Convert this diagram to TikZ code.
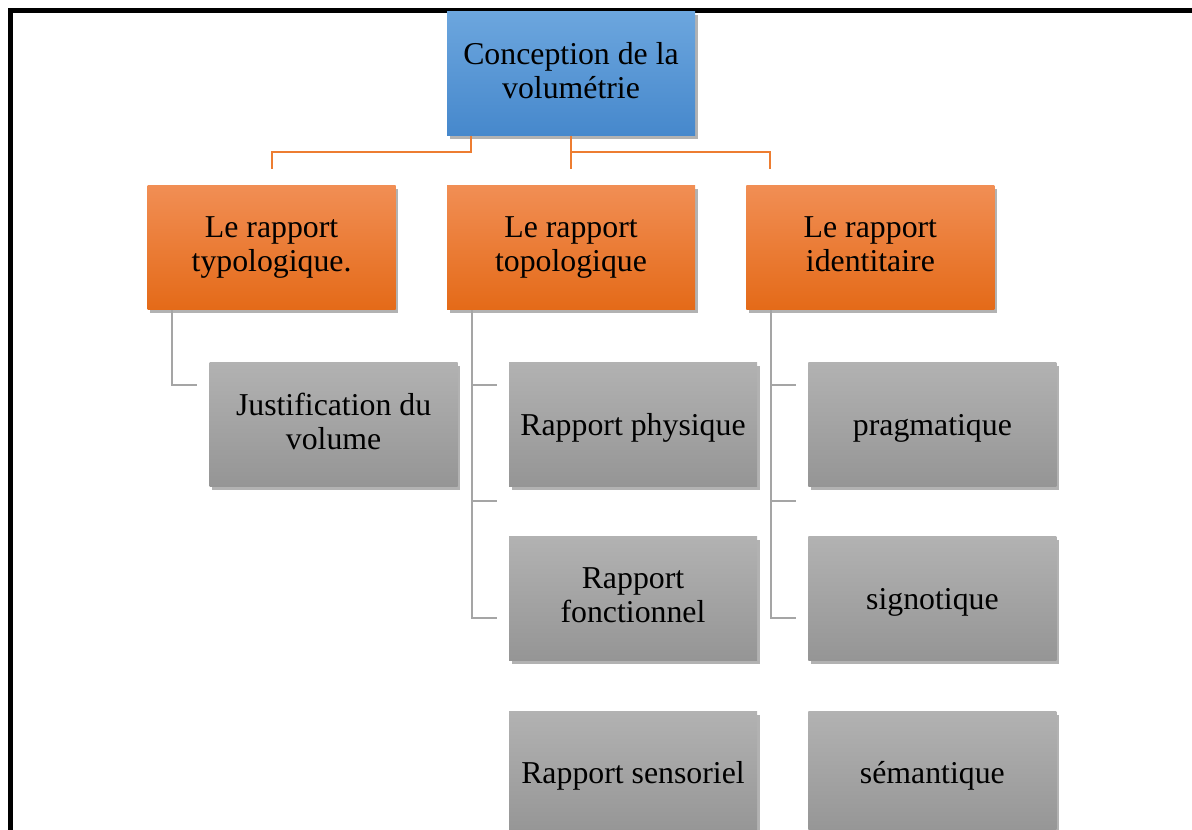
\documentclass[tikz,border=0pt]{standalone}
\usepackage{fontspec}
\setmainfont{Liberation Serif}
\usepackage{xcolor}
\usetikzlibrary{positioning,shadows,calc}

\definecolor{blueTop}{RGB}{108,166,222}
\definecolor{blueBot}{RGB}{70,136,204}
\definecolor{orgTop}{RGB}{241,142,84}
\definecolor{orgBot}{RGB}{228,106,24}
\definecolor{grayTop}{RGB}{178,178,178}
\definecolor{grayBot}{RGB}{149,149,149}
\definecolor{orgLine}{RGB}{237,125,49}
\definecolor{grayLine}{RGB}{165,165,165}

\newcommand\boxstrut{\rule[-7pt]{0pt}{35.6pt}}

\begin{document}
\begin{tikzpicture}[x=1pt,y=-1pt,
  every node/.style={font=\fontsize{31.8}{34}\selectfont, align=center, inner sep=2pt,
    execute at begin node=\boxstrut, execute at end node=\boxstrut},
  box/.style={minimum width=248pt, minimum height=124pt,
    drop shadow={shadow xshift=2.5pt, shadow yshift=-3.5pt, opacity=0.3, fill=black}},
  rootbox/.style={box, top color=blueTop, bottom color=blueBot},
  levelbox/.style={box, top color=orgTop, bottom color=orgBot},
  leafbox/.style={box, top color=grayTop, bottom color=grayBot},
  orgline/.style={draw=orgLine, line width=2pt},
  grayline/.style={draw=grayLine, line width=2pt},
]
\useasboundingbox (0,0) rectangle (1192,830);
% frame
\draw[line width=5pt] (10,860) -- (10,10) -- (1220,10);

% top and first level
\node[rootbox] (root) at (571,73.5) {Conception de la\\volumétrie};
\node[levelbox, below=50pt of root] (topo) {Le rapport\\topologique};
\node[levelbox, left=51pt of topo] (typo) {Le rapport\\typologique.};
\node[levelbox, right=51pt of topo] (ident) {Le rapport\\identitaire};

% second level
\node[leafbox, anchor=north west] (just) at ([xshift=62pt,yshift=-52pt]typo.south west) {Justification du\\volume};
\node[leafbox, anchor=north west] (phys) at ([xshift=62pt,yshift=-52pt]topo.south west) {Rapport physique};
\node[leafbox, below=50pt of phys] (fonc) {Rapport\\fonctionnel};
\node[leafbox, below=50pt of fonc] (sens) {Rapport sensoriel};
\node[leafbox, anchor=north west] (prag) at ([xshift=62pt,yshift=-52pt]ident.south west) {pragmatique};
\node[leafbox, below=50pt of prag] (signo) {signotique};
\node[leafbox, below=50pt of signo] (sema) {sémantique};

% orange connectors
\draw[orgline] ([xshift=24pt]root.south west) -- ++(0,16) -| ([yshift=17pt]typo.north);
\draw[orgline] (root.south) -- ([yshift=17pt]topo.north);
\draw[orgline] (root.south) ++(0,16) -| ([xshift=24pt,yshift=17pt]ident.north west);

% gray connectors
\draw[grayline] ([xshift=25pt]typo.south west) |- ([xshift=-12pt,yshift=-23pt]just.north west);
\foreach \p/\c in {topo/phys, ident/prag} {
  \draw[grayline] ([xshift=25pt]\p.south west) |- ([xshift=-12pt,yshift=-23pt]\c.north west);
  \draw[grayline] ([xshift=25pt]\p.south west) |- ([xshift=-12pt,yshift=-14pt]\c.south west);
  \draw[grayline] ([xshift=25pt]\p.south west) |- ([xshift=-12pt,yshift=-131pt]\c.south west);
}
\end{tikzpicture}
\end{document}
